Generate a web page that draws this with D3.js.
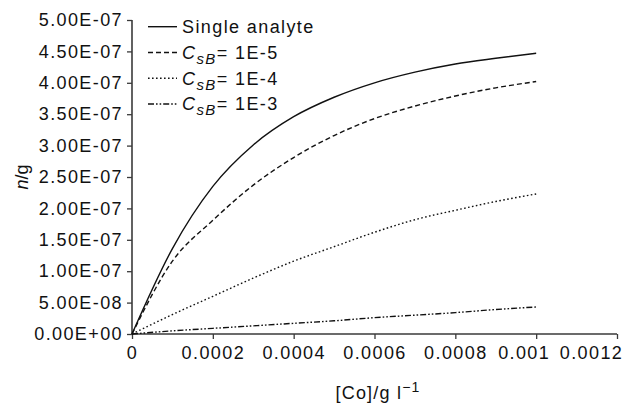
<!DOCTYPE html>
<html>
<head>
<meta charset="utf-8">
<script src="https://cdn.jsdelivr.net/npm/d3@7"></script>
<style>
  html, body { margin: 0; padding: 0; background: #fff; }
  svg { display: block; font-family: "Liberation Sans", Arial, sans-serif; }
</style>
</head>
<body>
<svg id="chart" width="630" height="403"></svg>
<script>
// ---- data ----
const conc = [0, 0.0001, 0.0002, 0.0003, 0.0004, 0.0005, 0.0006, 0.0007, 0.0008, 0.0009, 0.001];
const singleAnalyte = [0, 1.36e-7, 2.35e-7, 3.01e-7, 3.46e-7, 3.77e-7, 4.00e-7, 4.17e-7, 4.30e-7, 4.39e-7, 4.47e-7];
const csb1e5 = [0, 1.16e-7, 1.81e-7, 2.37e-7, 2.81e-7, 3.16e-7, 3.43e-7, 3.63e-7, 3.79e-7, 3.92e-7, 4.02e-7];
const csb1e4 = [0, 0.31e-7, 0.60e-7, 0.89e-7, 1.16e-7, 1.39e-7, 1.62e-7, 1.82e-7, 1.97e-7, 2.11e-7, 2.23e-7];
const csb1e3 = [0, 0.05e-7, 0.09e-7, 0.13e-7, 0.17e-7, 0.21e-7, 0.26e-7, 0.30e-7, 0.34e-7, 0.39e-7, 0.43e-7];
const seriesNames = ["Single analyte", "1E-5", "1E-4", "1E-3"];
const xTickValues = [0, 0.0002, 0.0004, 0.0006, 0.0008, 0.001, 0.0012];
const xTickLabels = ["0", "0.0002", "0.0004", "0.0006", "0.0008", "0.001", "0.0012"];
const yTickValues = [0, 5e-8, 1e-7, 1.5e-7, 2e-7, 2.5e-7, 3e-7, 3.5e-7, 4e-7, 4.5e-7, 5e-7];
const yTickLabels = ["0.00E+00", "5.00E-08", "1.00E-07", "1.50E-07", "2.00E-07", "2.50E-07",
                     "3.00E-07", "3.50E-07", "4.00E-07", "4.50E-07", "5.00E-07"];

// ---- styles ----
const dashes = [null, "5,3", "1.6,2.4", "6,2,1.6,2,1.6,2"];
const FONT = 18;
const LS = "1.4px";

const svg = d3.select("#chart");
const x = d3.scaleLinear().domain([0, 0.0012]).range([132, 617]);
const y = d3.scaleLinear().domain([0, 5e-7]).range([334, 20]);

// axes
const xAxis = d3.axisBottom(x).tickValues(xTickValues).tickSize(5).tickPadding(7)
  .tickFormat((d, i) => xTickLabels[i]);
const yAxis = d3.axisLeft(y).tickValues(yTickValues).tickSize(5).tickPadding(4)
  .tickFormat((d, i) => yTickLabels[i]);

const gx = svg.append("g").attr("transform", `translate(0,${y(0)})`).call(xAxis);
const gy = svg.append("g").attr("transform", `translate(${x(0)},0)`).call(yAxis);
[gx, gy].forEach(g => {
  g.select(".domain").attr("stroke", "#3a3a3a").attr("stroke-width", 1.6);
  g.selectAll(".tick line").attr("stroke", "#3a3a3a").attr("stroke-width", 1.3);
  g.selectAll(".tick text").attr("fill", "#111").style("font-size", FONT + "px")
    .style("letter-spacing", LS).style("font-family", "'Liberation Sans', Arial, sans-serif");
});
gy.selectAll(".domain").attr("d", `M-0,${y(5e-7)}V${y(0)}`);
gx.selectAll(".domain").attr("d", `M${x(0)},0H${x(0.0012)}`);
// the last two labels sit left of their ticks in the reference (kept inside the frame)
gx.selectAll(".tick text").attr("dx", (d, i) => i === 5 ? -12.5 : (i === 6 ? -26 : 0));

// lines
const allSeries = [singleAnalyte, csb1e5, csb1e4, csb1e3];
const line = d3.line().x((d, i) => x(conc[i])).y(d => y(d)).curve(d3.curveMonotoneX);
allSeries.forEach((s, k) => {
  svg.append("path").datum(s).attr("d", line)
    .attr("fill", "none").attr("stroke", "#111").attr("stroke-width", 1.4)
    .attr("stroke-dasharray", dashes[k]);
});

// legend
const legY = [26.7, 52.5, 78.3, 104];
const leg = svg.append("g");
seriesNames.forEach((name, k) => {
  leg.append("line").attr("x1", 148).attr("x2", 177).attr("y1", legY[k]).attr("y2", legY[k])
    .attr("stroke", "#111").attr("stroke-width", 1.4).attr("stroke-dasharray", dashes[k]);
  const t = leg.append("text").attr("x", 182).attr("y", legY[k] + 6.3)
    .style("font-size", FONT + "px").style("letter-spacing", LS).attr("fill", "#111");
  if (k === 0) {
    t.text(name);
  } else {
    t.append("tspan").attr("font-style", "italic").text("C");
    t.append("tspan").attr("font-style", "italic").attr("dy", 5).style("font-size", "15px").text("sB");
    t.append("tspan").attr("dy", -5).text("= " + name);
  }
});

// axis titles
const xt = svg.append("text").attr("x", 378).attr("y", 399).attr("text-anchor", "middle")
  .style("font-size", FONT + "px").style("letter-spacing", "1.2px").attr("fill", "#111");
xt.append("tspan").text("[Co]/g l");
xt.append("tspan").attr("dy", -7).style("font-size", "14px").text("\u22121");

const yt = svg.append("text").attr("transform", `translate(28,177) rotate(-90)`)
  .attr("text-anchor", "middle").style("font-size", FONT + "px").attr("fill", "#111");
yt.append("tspan").attr("font-style", "italic").text("n");
yt.append("tspan").text("/g");
</script>
</body>
</html>
